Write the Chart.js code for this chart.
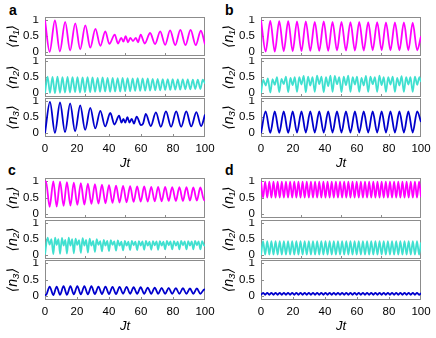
<!DOCTYPE html>
<html><head><meta charset="utf-8">
<script src="https://cdn.jsdelivr.net/npm/chart.js@4/dist/chart.umd.min.js"></script>
<style>
html,body{margin:0;padding:0;background:#fff;}
body{width:436px;height:338px;position:relative;overflow:hidden;font-family:"Liberation Sans","DejaVu Sans",Arial,sans-serif;}
.pl{position:absolute;font-weight:bold;font-size:14px;line-height:14px;color:#000;}
canvas{position:absolute;}
</style></head><body>
<div class="pl" style="left:9px;top:3px">a</div>
<div class="pl" style="left:225px;top:3px">b</div>
<div class="pl" style="left:8px;top:163px">c</div>
<div class="pl" style="left:225px;top:163px">d</div>
<script>
// ---- data: [Jt, value] ----
const xTicksBottom = [0, 20, 40, 60, 80, 100];
const xTicksUpper = [0, 25, 50, 75, 100];
const yTicks = [0, 0.5, 1];
const yTitles = ['⟨n₁⟩', '⟨n₂⟩', '⟨n₃⟩'];
const xTitle = 'Jt';

const a_n1 = [[0,1.0],[2.9,.01],[6.2,.99],[9.3,.02],[12.6,.95],[15.7,.05],[18.9,.9],[22.0,.09],[25.2,.84],[28.3,.14],[31.5,.73],[34.6,.2],[37.7,.65],[40.2,.26],[43.6,.55],[45.6,.27],[47.7,.45],[49.0,.33],[50.4,.5],[51.9,.31],[53.3,.45],[55.0,.35],[56.8,.45],[58.1,.31],[59.8,.55],[62.3,.27],[65.7,.6],[68.8,.25],[72.0,.65],[75.1,.23],[78.2,.68],[81.4,.22],[84.6,.7],[87.8,.22],[91.0,.7],[94.2,.22],[97.4,.67],[100,.24]];
const a_n2 = [[0,0],[1.6,.52],[3.1,.01],[4.7,.51],[6.2,0],[7.8,.52],[9.4,.01],[10.9,.5],[12.5,.02],[14.1,.51],[15.6,.02],[17.2,.5],[18.8,.03],[20.3,.5],[21.9,.02],[23.5,.49],[25.0,.03],[26.6,.5],[28.2,.03],[29.7,.49],[31.3,.04],[32.9,.48],[34.4,.04],[36.0,.49],[37.6,.05],[39.1,.48],[40.7,.04],[42.3,.48],[43.8,.05],[45.4,.47],[47.0,.05],[48.5,.48],[50.1,.06],[51.6,.47],[53.2,.06],[54.8,.46],[56.3,.07],[57.9,.47],[59.5,.07],[61.0,.46],[62.6,.08],[64.2,.46],[65.7,.08],[67.3,.45],[68.9,.09],[70.4,.45],[72.0,.09],[73.6,.44],[75.1,.1],[76.7,.44],[78.3,.1],[79.8,.44],[81.4,.11],[83.0,.43],[84.5,.11],[86.1,.43],[87.7,.12],[89.2,.43],[90.8,.12],[92.4,.42],[93.9,.13],[95.5,.42],[97.1,.13],[98.6,.42],[100,.3]];
const a_n3 = [[0,0],[3.1,.98],[6.2,.01],[9.4,.96],[12.5,.03],[15.7,.93],[18.8,.06],[22.0,.87],[25.1,.1],[28.3,.79],[31.4,.15],[34.6,.7],[37.6,.21],[40.8,.63],[43.4,.27],[46.3,.55],[47.8,.33],[49.0,.45],[50.2,.33],[51.5,.5],[52.8,.33],[54.2,.45],[55.6,.3],[57.3,.52],[60.0,.25],[61.3,.3],[63.0,.6],[66.1,.22],[69.3,.65],[72.4,.2],[75.6,.68],[78.8,.2],[82.0,.68],[85.1,.2],[88.3,.68],[91.4,.21],[94.6,.66],[97.6,.22],[100,.58]];

const b_n1 = [[0,1.0],[2.9,.02],[5.8,.98],[8.6,.02],[11.4,.97],[14.2,.03],[17.0,.97],[19.8,.03],[22.5,.96],[25.3,.03],[28.0,.96],[30.8,.04],[33.6,.95],[36.4,.04],[39.2,.96],[42.0,.04],[44.7,.95],[47.5,.05],[50.3,.95],[53.1,.05],[55.9,.94],[58.7,.05],[61.4,.95],[64.2,.05],[67.0,.94],[69.8,.06],[72.6,.94],[75.4,.06],[78.1,.93],[80.9,.06],[83.7,.93],[86.5,.06],[89.3,.93],[92.1,.06],[94.8,.92],[97.6,.06],[100,.5]];
const b_n2 = [[0,0],[1.4,.42],[2.9,.24],[4.3,.46],[5.8,.02],[7.2,.44],[8.6,.26],[10.0,.5],[11.4,.03],[12.8,.45],[14.2,.28],[15.6,.52],[17.0,.03],[18.4,.48],[19.8,.25],[21.1,.5],[22.5,.04],[23.9,.5],[25.3,.27],[26.7,.54],[28.0,.03],[29.4,.52],[30.8,.24],[32.2,.5],[33.6,.04],[35.0,.55],[36.4,.28],[37.8,.52],[39.2,.03],[40.6,.5],[42.0,.22],[43.4,.55],[44.7,.04],[46.1,.54],[47.5,.28],[48.9,.5],[50.3,.03],[51.7,.52],[53.1,.25],[54.5,.55],[55.9,.04],[57.3,.5],[58.7,.27],[60.0,.52],[61.4,.04],[62.8,.48],[64.2,.24],[65.6,.54],[67.0,.04],[68.4,.52],[69.8,.28],[71.2,.5],[72.6,.04],[74.0,.55],[75.4,.25],[76.7,.5],[78.1,.04],[79.5,.5],[80.9,.27],[82.3,.52],[83.7,.04],[85.1,.48],[86.5,.24],[87.9,.53],[89.3,.04],[90.7,.5],[92.1,.27],[93.4,.5],[94.8,.04],[96.2,.52],[97.6,.26],[99.0,.5],[100,.35]];
const b_n3 = [[0,0],[2.9,.68],[5.8,.01],[8.6,.68],[11.4,.01],[14.2,.68],[17.0,.01],[19.8,.68],[22.5,.02],[25.3,.68],[28.0,.02],[30.8,.68],[33.6,.02],[36.4,.68],[39.2,.02],[42.0,.68],[44.7,.02],[47.5,.68],[50.3,.02],[53.1,.68],[55.9,.02],[58.7,.68],[61.4,.02],[64.2,.68],[67.0,.02],[69.8,.68],[72.6,.02],[75.4,.68],[78.1,.02],[80.9,.68],[83.7,.02],[86.5,.68],[89.3,.02],[92.1,.68],[94.8,.02],[97.6,.68],[100,.35]];

const c_n1 = [[0,.98],[0.6,1.0],[2.9,.22],[5.2,1.0],[7.3,.23],[9.4,.99],[11.6,.25],[13.7,.97],[15.9,.26],[18.0,.96],[20.2,.28],[22.4,.94],[24.6,.29],[26.8,.93],[29.0,.31],[31.2,.91],[33.4,.32],[35.6,.9],[37.8,.33],[40.0,.88],[42.2,.34],[44.4,.87],[46.6,.35],[48.8,.86],[51.0,.36],[53.2,.85],[55.4,.37],[57.6,.84],[59.8,.38],[62.0,.84],[64.2,.38],[66.4,.83],[68.6,.39],[70.7,.83],[72.9,.39],[75.1,.83],[77.3,.4],[79.5,.82],[81.8,.4],[84.0,.82],[86.2,.4],[88.4,.82],[90.6,.41],[92.7,.81],[94.9,.41],[97.1,.81],[99.5,.42],[100,.44]];
const c_n2 = [[0,.02],[1.6,.55],[2.9,.33],[4.0,.5],[5.2,.03],[6.3,.55],[7.3,.32],[8.4,.5],[9.4,.04],[10.6,.54],[11.6,.3],[12.7,.48],[13.7,.05],[14.8,.55],[15.9,.3],[17.0,.5],[18.0,.06],[19.1,.52],[20.2,.32],[21.3,.47],[22.4,.07],[23.5,.53],[24.6,.3],[25.7,.48],[26.8,.08],[27.9,.52],[29.0,.3],[30.1,.45],[31.2,.1],[32.3,.5],[33.4,.32],[34.5,.44],[35.6,.12],[36.7,.48],[37.8,.3],[38.9,.45],[40.0,.13],[41.1,.47],[42.2,.32],[43.3,.43],[44.4,.14],[45.5,.46],[46.6,.3],[47.7,.42],[48.8,.15],[49.9,.45],[51.0,.3],[52.1,.42],[53.2,.16],[54.3,.45],[55.4,.31],[56.5,.42],[57.6,.16],[58.7,.44],[59.8,.3],[60.9,.43],[62.0,.17],[63.1,.45],[64.2,.3],[65.3,.42],[66.4,.17],[67.5,.44],[68.6,.31],[69.7,.43],[70.7,.17],[71.8,.44],[72.9,.3],[74.0,.42],[75.1,.18],[76.2,.45],[77.3,.31],[78.4,.43],[79.5,.18],[80.6,.44],[81.8,.3],[82.9,.42],[84.0,.18],[85.1,.45],[86.2,.31],[87.3,.43],[88.4,.18],[89.5,.44],[90.6,.3],[91.7,.43],[92.7,.18],[93.8,.45],[94.9,.31],[96.0,.43],[97.1,.18],[98.2,.44],[99.5,.3],[100,.32]];
const c_n3 = [[0,.04],[0.6,.03],[2.9,.29],[5.2,.03],[7.3,.29],[9.4,.04],[11.6,.3],[13.7,.04],[15.9,.3],[18.0,.05],[20.2,.3],[22.4,.05],[24.6,.3],[26.8,.05],[29.0,.3],[31.2,.06],[33.4,.29],[35.6,.06],[37.8,.29],[40.0,.06],[42.2,.28],[44.4,.06],[46.6,.28],[48.8,.07],[51.0,.28],[53.2,.07],[55.4,.27],[57.6,.07],[59.8,.27],[62.0,.07],[64.2,.26],[66.4,.07],[68.6,.26],[70.7,.07],[72.9,.25],[75.1,.07],[77.3,.25],[79.5,.07],[81.8,.24],[84.0,.07],[86.2,.24],[88.4,.07],[90.6,.23],[92.7,.07],[94.9,.23],[97.1,.07],[99.5,.2],[100,.19]];

const d_n1 = [[0,1],[1.3,.5],[2.6,.99],[3.9,.5],[5.2,.99],[6.5,.5],[7.8,.99],[9.1,.5],[10.4,.99],[11.7,.5],[13.0,.99],[14.3,.5],[15.6,.99],[16.9,.5],[18.2,.99],[19.5,.5],[20.8,.99],[22.1,.5],[23.4,.99],[24.7,.5],[26.0,.99],[27.3,.5],[28.6,.99],[29.9,.5],[31.2,.99],[32.5,.5],[33.8,.99],[35.1,.5],[36.4,.99],[37.7,.5],[39.0,.99],[40.3,.5],[41.6,.99],[42.9,.5],[44.2,.99],[45.5,.5],[46.8,.99],[48.1,.5],[49.4,.99],[50.7,.5],[52.0,.99],[53.3,.5],[54.6,.99],[55.9,.5],[57.2,.99],[58.5,.5],[59.8,.99],[61.1,.5],[62.4,.99],[63.7,.5],[65.0,.99],[66.3,.5],[67.6,.99],[68.9,.5],[70.2,.99],[71.5,.5],[72.8,.99],[74.1,.5],[75.4,.99],[76.7,.5],[78.0,.99],[79.3,.5],[80.6,.99],[81.9,.5],[83.2,.99],[84.5,.5],[85.8,.99],[87.1,.5],[88.4,.99],[89.7,.5],[91.0,.99],[92.3,.5],[93.6,.99],[94.9,.5],[96.2,.99],[97.5,.5],[98.8,.99],[100,.52]];
const d_n2 = [[0,0],[1.3,.44],[2.6,.02],[3.9,.44],[5.2,.02],[6.5,.44],[7.8,.02],[9.1,.44],[10.4,.02],[11.7,.44],[13.0,.02],[14.3,.44],[15.6,.02],[16.9,.44],[18.2,.02],[19.5,.44],[20.8,.02],[22.1,.44],[23.4,.02],[24.7,.44],[26.0,.02],[27.3,.44],[28.6,.02],[29.9,.44],[31.2,.02],[32.5,.44],[33.8,.02],[35.1,.44],[36.4,.02],[37.7,.44],[39.0,.02],[40.3,.44],[41.6,.02],[42.9,.44],[44.2,.02],[45.5,.44],[46.8,.02],[48.1,.44],[49.4,.02],[50.7,.44],[52.0,.02],[53.3,.44],[54.6,.02],[55.9,.44],[57.2,.02],[58.5,.44],[59.8,.02],[61.1,.44],[62.4,.02],[63.7,.44],[65.0,.02],[66.3,.44],[67.6,.02],[68.9,.44],[70.2,.02],[71.5,.44],[72.8,.02],[74.1,.44],[75.4,.02],[76.7,.44],[78.0,.02],[79.3,.44],[80.6,.02],[81.9,.44],[83.2,.02],[84.5,.44],[85.8,.02],[87.1,.44],[88.4,.02],[89.7,.44],[91.0,.02],[92.3,.44],[93.6,.02],[94.9,.44],[96.2,.02],[97.5,.44],[98.8,.02],[100,.4]];
const d_n3 = [[0,0.03],[1.3,.1],[2.6,.04],[3.9,.1],[5.2,.04],[6.5,.1],[7.8,.04],[9.1,.1],[10.4,.04],[11.7,.1],[13.0,.04],[14.3,.1],[15.6,.04],[16.9,.1],[18.2,.04],[19.5,.1],[20.8,.04],[22.1,.1],[23.4,.04],[24.7,.1],[26.0,.04],[27.3,.1],[28.6,.04],[29.9,.1],[31.2,.04],[32.5,.1],[33.8,.04],[35.1,.1],[36.4,.04],[37.7,.1],[39.0,.04],[40.3,.1],[41.6,.04],[42.9,.1],[44.2,.04],[45.5,.1],[46.8,.04],[48.1,.1],[49.4,.04],[50.7,.1],[52.0,.04],[53.3,.1],[54.6,.04],[55.9,.1],[57.2,.04],[58.5,.1],[59.8,.04],[61.1,.1],[62.4,.04],[63.7,.1],[65.0,.04],[66.3,.1],[67.6,.04],[68.9,.1],[70.2,.04],[71.5,.1],[72.8,.04],[74.1,.1],[75.4,.04],[76.7,.1],[78.0,.04],[79.3,.1],[80.6,.04],[81.9,.1],[83.2,.04],[84.5,.1],[85.8,.04],[87.1,.1],[88.4,.04],[89.7,.1],[91.0,.04],[92.3,.1],[93.6,.04],[94.9,.1],[96.2,.04],[97.5,.1],[98.8,.04],[100,.09]];

const seriesColors = ['#ff00ff', '#40e0d0', '#0000cd'];

// ---- layout ----
const FONT = "'Liberation Sans','DejaVu Sans',Arial,sans-serif";
Chart.defaults.font.family = FONT;
Chart.defaults.font.size = 11;
Chart.defaults.color = '#000';

const panels = [
  {series: [a_n1, a_n2, a_n3], left: 0,   plotLeft: 45,  plotRight: 205, rows: [[17, 56], [58, 97], [98, 137]]},
  {series: [b_n1, b_n2, b_n3], left: 216, plotLeft: 261, plotRight: 421, rows: [[17, 56], [58, 97], [98, 137]]},
  {series: [c_n1, c_n2, c_n3], left: 0,   plotLeft: 45,  plotRight: 205, rows: [[178, 218], [220, 259], [260, 300]]},
  {series: [d_n1, d_n2, d_n3], left: 216, plotLeft: 261, plotRight: 421, rows: [[178, 218], [220, 259], [260, 300]]}
];

const framePlugin = {
  id: 'frame',
  beforeDatasetsDraw(chart) {
    const {ctx, chartArea: {left, top, right, bottom}} = chart;
    const xs = chart.scales.x, ys = chart.scales.y;
    ctx.save();
    ctx.strokeStyle = '#8c8c8c';
    ctx.lineWidth = 1;
    ctx.beginPath();
    xs.ticks.forEach(t => {
      const px = Math.round(xs.getPixelForValue(t.value)) + 0.5;
      if (px > left + 2 && px < right - 2) { ctx.moveTo(px, bottom); ctx.lineTo(px, bottom - 3); }
    });
    ys.ticks.forEach(t => {
      const py = Math.round(ys.getPixelForValue(t.value)) + 0.5;
      ctx.moveTo(left, py); ctx.lineTo(left + 3, py);
    });
    ctx.stroke();
    ctx.strokeRect(left + 0.5, top + 0.5, right - left - 1, bottom - top - 1);
    ctx.restore();
  }
};

panels.forEach(p => {
  p.rows.forEach(([pt, pb], i) => {
    const isBottom = i === 2;
    const cv = document.createElement('canvas');
    const top = pt - 1;
    const w = p.plotRight - p.left + 12;
    const xAxisH = isBottom ? 34 : 0;
    const h = isBottom ? (pb - top) + xAxisH : (pb - top) + 1;
    cv.width = w; cv.height = h;
    cv.style.left = p.left + 'px'; cv.style.top = top + 'px';
    cv.style.width = w + 'px'; cv.style.height = h + 'px';
    document.body.appendChild(cv);
    const data = p.series[i];
    new Chart(cv, {
      type: 'line',
      data: {
        datasets: [{
          data: data.map(d => ({x: d[0], y: d[1]})),
          borderColor: seriesColors[i],
          borderWidth: 1.8,
          pointRadius: 0,
          cubicInterpolationMode: 'monotone',
          fill: false
        }]
      },
      options: {
        responsive: false,
        devicePixelRatio: 1,
        animation: false,
        events: [],
        layout: {padding: {left: 0, top: 1, right: 12, bottom: isBottom ? 0 : 1}},
        plugins: {legend: {display: false}, tooltip: {enabled: false}},
        scales: {
          x: {
            type: 'linear', min: 0, max: 100,
            afterBuildTicks: s => { s.ticks = (isBottom ? xTicksBottom : xTicksUpper).map(v => ({value: v})); },
            afterFit: s => { s.height = xAxisH; s.paddingLeft = 0; s.paddingRight = 0; },
            grid: {display: false, drawTicks: false},
            border: {display: false},
            ticks: {display: isBottom, padding: 5, maxRotation: 0, autoSkip: false, font: {size: 11.5}},
            title: {display: isBottom, text: xTitle, font: {size: 13, style: 'italic'}, padding: {top: 0, bottom: 0}}
          },
          y: {
            type: 'linear', min: -0.12, max: 1.1,
            afterBuildTicks: s => { s.ticks = yTicks.map(v => ({value: v})); },
            afterFit: s => { s.width = p.plotLeft - p.left; s.paddingTop = 0; s.paddingBottom = 0; },
            grid: {display: false, drawTicks: false},
            border: {display: false},
            ticks: {padding: 6, autoSkip: false, font: {size: 11.5}, callback: v => String(v)},
            title: {display: true, text: yTitles[i], font: {size: 14, style: 'italic'}, padding: {top: 5, bottom: 0}}
          }
        }
      },
      plugins: [framePlugin]
    });
  });
});
</script>
</body></html>
